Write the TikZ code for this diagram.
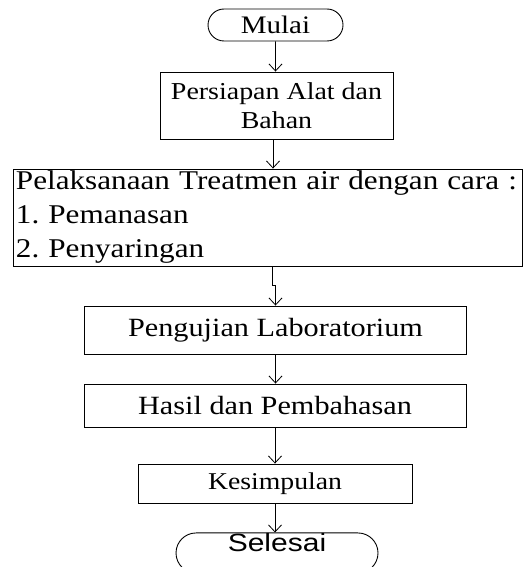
\documentclass[tikz,border=0pt]{standalone}
\usepackage{fontspec}
\setmainfont{Liberation Serif}[FakeStretch=1.15]
\newfontfamily\selesaifont{Liberation Sans}[FakeStretch=1.2]
\usetikzlibrary{positioning,arrows.meta,shapes.misc}
\frenchspacing

\tikzset{
  box/.style={draw, line width=0.9pt, inner sep=0pt, align=center},
  term/.style={draw, rounded rectangle, line width=0.9pt, inner sep=0pt},
  arr/.style={-{Straight Barb[length=7pt,width=13pt]}, line width=0.8pt},
}

\begin{document}
\begin{tikzpicture}[x=1pt, y=-1pt]
  \useasboundingbox (0,0) rectangle (527,567);
  % terminator atas
  \node[term, minimum width=135pt, minimum height=32pt, font=\fontsize{25.2}{29}\selectfont] (mulai) at (275.5,25) {Mulai};
  \node[box, minimum width=233pt, minimum height=67pt, font=\fontsize{24.3}{29}\selectfont] (persiapan) at (276.5,105.5) {Persiapan Alat dan\\Bahan};
  \node[box, minimum height=97pt, text width=503pt, inner xsep=3pt, align=left, font=\fontsize{27.1}{34}\selectfont] (treatmen) at (267.5,217.5)
    {Pelaksanaan Treatmen air dengan cara :\\1. Pemanasan\\2. Penyaringan};
  \node[box, minimum width=382pt, minimum height=48pt, font=\fontsize{26.3}{30}\selectfont] (uji) at (275.5,330) {Pengujian Laboratorium};
  \node[box, minimum width=382pt, minimum height=43pt, font=\fontsize{26.3}{30}\selectfont] (hasil) at (275,405.5) {Hasil dan Pembahasan};
  \node[box, minimum width=274pt, minimum height=39pt, font=\fontsize{24.1}{29}\selectfont] (simpul) at (275,483.5) {Kesimpulan};
  % terminator bawah
  \node[term, minimum width=202pt, minimum height=36pt, text depth=22pt, font=\selesaifont\fontsize{25}{29}\selectfont] (selesai) at (277,553) {Selesai};

  \coordinate (jog) at (272.5,285);
  \draw[arr] (mulai) -- (mulai |- persiapan.north);
  \draw[arr] ([xshift=-3.5pt]persiapan.south) -- ([xshift=-3.5pt]persiapan.south |- treatmen.north);
  \draw[arr] (treatmen.south -| jog) -- (jog) -| (uji.north);
  \draw[arr] (uji) -- (uji |- hasil.north);
  \draw[arr] (hasil) -- (simpul);
  \draw[arr] (simpul) -- (simpul |- selesai.north);
\end{tikzpicture}
\end{document}
